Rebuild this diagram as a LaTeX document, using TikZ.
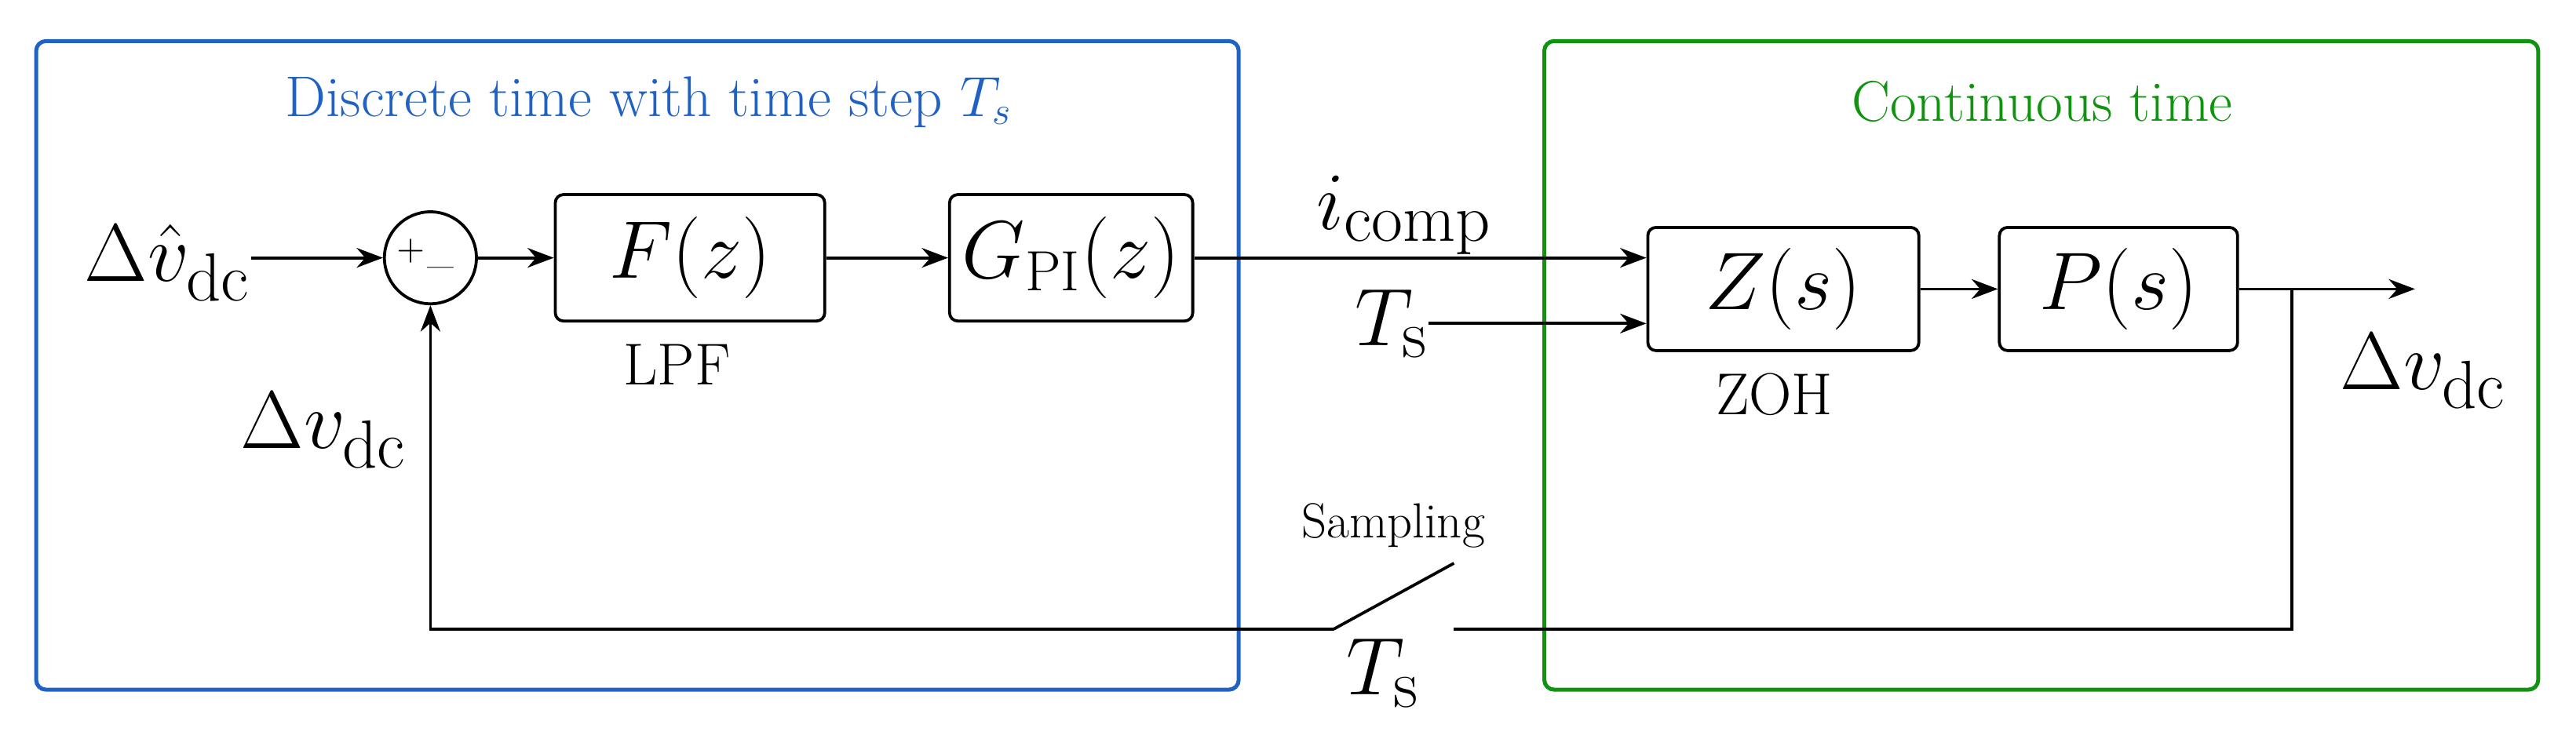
\documentclass[tikz,border=0pt]{standalone}
\usetikzlibrary{arrows.meta}
\definecolor{dblue}{HTML}{1F62C4}
\definecolor{dgreen}{HTML}{109410}
\begin{document}
\begin{tikzpicture}[x=0.5pt,y=-0.5pt,
  blk/.style={draw,line width=0.9pt,rounded corners=2.5pt,inner sep=0,font=\fontsize{23}{27}\selectfont},
  wire/.style={line width=0.9pt},
  arr/.style={wire,-{Stealth[length=8pt,width=6pt]}},
  big/.style={font=\fontsize{28}{32}\selectfont,inner sep=0},
  lbl/.style={font=\fontsize{18}{21}\selectfont,inner sep=0}]
\useasboundingbox (0,0) rectangle (1568,450);
\draw[dblue,line width=1.2pt,rounded corners=3pt] (22,25) rectangle (754,420);
\draw[dgreen,line width=1.2pt,rounded corners=3pt] (940,25) rectangle (1545,420);
\node[dblue,font=\fontsize{17.5}{21}\selectfont] (t1) at (395,62) {Discrete time with time step $T_s$};
\node[dgreen,font=\fontsize{17.5}{21}\selectfont] (t2) at (1243,62) {Continuous time};
\node[draw,circle,line width=0.9pt,minimum size=28pt,inner sep=0] (sum) at (262,157) {};
\node[inner sep=0,font=\fontsize{11}{13}\selectfont] (pl) at (250,153) {$+$};
\node[inner sep=0,font=\fontsize{11}{13}\selectfont] (mi) at (268,162) {\_};
\node[big,anchor=east] (in) at (153,160) {$\Delta\hat v_{\mathrm{dc}}$};
\node[blk,minimum width=82pt,minimum height=38.5pt] (F) at (420,157) {$F(z)$};
\node[lbl] (lpf) at (412,222) {LPF};
\node[blk,minimum width=74pt,minimum height=38.5pt] (G) at (652,157) {$G_{\mathrm{PI}}(z)$};
\node[blk,minimum width=82.5pt,minimum height=37.5pt] (Z) at (1085.5,176) {$Z(s)$};
\node[lbl] (zoh) at (1080,240) {ZOH};
\node[blk,minimum width=72.5pt,minimum height=37.5pt] (P) at (1289.5,176) {$P(s)$};
\node[big] (ic) at (855,131) {$i_{\mathrm{comp}}$};
\node[big] (ts1) at (847,197) {$T_{\mathrm{s}}$};
\node[big] (out) at (1475,226) {$\Delta v_{\mathrm{dc}}$};
\node[big] (fb) at (197,262) {$\Delta v_{\mathrm{dc}}$};
\node[font=\fontsize{15}{18}\selectfont,inner sep=0] (smp) at (848,320) {Sampling};
\node[big] (ts2) at (842,410) {$T_{\mathrm{s}}$};
\coordinate (o) at (1470,176);
\coordinate (br) at (1395,176);
\coordinate (sw1) at (885,383);
\coordinate (sw0) at (812,383);
\coordinate (swt) at (885,343);
\draw[arr] (in.east|-sum) -- (sum);
\draw[arr] (sum) -- (F);
\draw[arr] (F) -- (G);
\draw[arr] (G.east) -- (Z.west|-G.east);
\draw[arr] (ts1.east|-0,197) -- (Z.west|-0,197);
\draw[arr] (Z) -- (P);
\draw[arr] (P) -- (o);
\draw[wire] (br) -- (br|-sw1) -- (sw1);
\draw[wire] (sw0) -- (swt);
\draw[arr] (sw0) -- (sum|-sw0) -- (sum.south);
\end{tikzpicture}
\end{document}
